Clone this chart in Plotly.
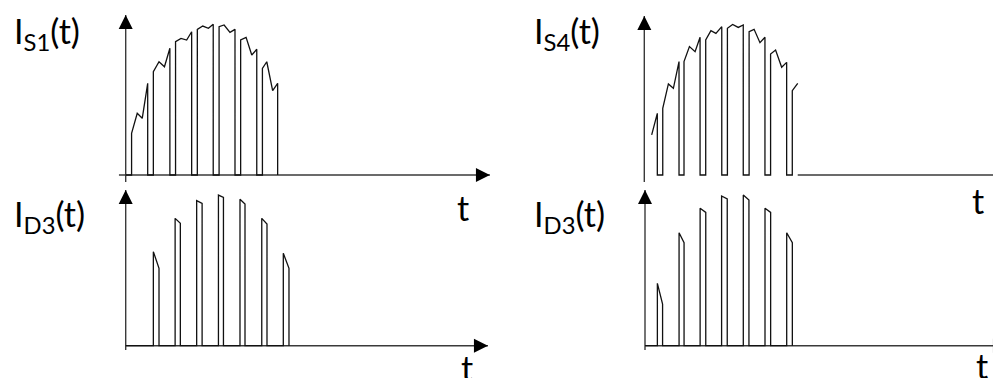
import plotly.graph_objects as go

# ---------------- data (time in switching periods, current in A) ----------------
S1_T = [[0.27, 0.53, 0.76, 1.01], [1.27, 1.53, 1.78, 2.03], [2.29, 2.54, 2.80, 3.03],
        [3.29, 3.54, 3.80, 4.02], [4.29, 4.52, 4.79, 5.02], [5.28, 5.53, 5.79, 6.02],
        [6.28, 6.48, 6.75, 6.98]]
S1_I = [[2.78, 4.11, 3.78, 6.11], [6.89, 7.55, 7.22, 8.45], [8.89, 9.11, 9.00, 9.55],
        [9.71, 9.93, 9.78, 10.05], [9.89, 10.00, 9.51, 9.71], [9.00, 9.18, 8.00, 8.38],
        [7.11, 7.55, 5.62, 6.11]]

D3L_T = [[1.27, 1.53], [2.27, 2.51], [3.26, 3.51], [4.26, 4.49], [5.25, 5.48],
         [6.25, 6.49], [7.24, 7.50]]
D3L_I = [[6.27, 5.16], [8.49, 8.16], [9.67, 9.49], [10.04, 9.89], [9.76, 9.44],
         [8.49, 8.11], [6.16, 5.16]]

S4_T = [[0.34, 0.60], [0.85, 1.11, 1.34, 1.60], [1.83, 2.08, 2.34, 2.57],
        [2.83, 3.07, 3.30, 3.57], [3.83, 4.07, 4.33, 4.56], [4.83, 5.06, 5.33, 5.56],
        [5.82, 6.05, 6.33, 6.56], [6.82, 7.07]]
S4_I = [[2.67, 4.11], [4.44, 6.07, 5.78, 7.56], [7.56, 8.56, 8.22, 9.18],
        [9.00, 9.62, 9.44, 9.89], [9.78, 10.04, 9.84, 10.00], [9.56, 9.71, 8.82, 9.18],
        [8.07, 8.33, 7.18, 7.51], [5.62, 6.11]]
S4_RISE = [False, True, True, True, True, True, True, True]
S4_FALL = [True, True, True, True, True, True, True, False]

D3R_T = [[0.57, 0.81], [1.57, 1.80], [2.54, 2.80], [3.53, 3.79], [4.53, 4.79],
         [5.53, 5.79], [6.53, 6.79]]
D3R_I = [[4.16, 2.78], [7.53, 6.87], [9.16, 8.89], [9.98, 9.78], [10.04, 9.71],
         [9.16, 8.89], [7.53, 6.87]]

LABELS = ["I<sub>S1</sub>(t)", "I<sub>D3</sub>(t)", "I<sub>S4</sub>(t)", "I<sub>D3</sub>(t)"]
T_LABEL = "t"

# ---------------- layout helpers ----------------
W, H = 1001, 378
PAD = 8          # page body margin of the html page
FONT = "Lato"
WAVE = "#111111"
AXC = "#3a3a3a"


def build(times, currents, rise=None, fall=None, t_start=None):
    xs, ys = [], []
    if t_start is not None:
        xs.append(t_start); ys.append(0)
    for k, (tt, ii) in enumerate(zip(times, currents)):
        if rise is None or rise[k]:
            xs.append(tt[0]); ys.append(0)
        xs += tt; ys += ii
        if fall is None or fall[k]:
            xs.append(tt[-1]); ys.append(0)
    return xs, ys


# panel: (origin px x, origin px y in the target picture, px per period, px per A)
panels = [
    dict(ox=125.7, oy=175.0, sx=21.77, sy=15.0),
    dict(ox=125.7, oy=345.7, sx=21.77, sy=15.0),
    dict(ox=644.3, oy=175.0, sx=21.70, sy=15.0),
    dict(ox=645.0, oy=345.7, sx=21.70, sy=15.0),
]

waves = [
    build(S1_T, S1_I, t_start=0.0),
    build(D3L_T, D3L_I, t_start=0.0),
    build(S4_T, S4_I, S4_RISE, S4_FALL),
    build(D3R_T, D3R_I, t_start=0.0),
]

# axis arrow extents (tail -> head) per panel
x_arrows = [(-0.31, 16.73), (0.0, 16.64), (7.07, 16.75), (0.0, 16.68)]
y_arrows = [(-0.47, 10.67), (-0.29, 10.38), (-0.47, 10.60), (-0.29, 10.38)]

fig = go.Figure()
layout = dict(width=W, height=H, autosize=False,
              margin=dict(l=0, r=0, t=0, b=0),
              paper_bgcolor="white", plot_bgcolor="white",
              showlegend=False)
annotations = []

for i, (p, (xs, ys)) in enumerate(zip(panels, waves)):
    n = "" if i == 0 else str(i + 1)
    ox = p["ox"] - PAD
    oy = p["oy"] - PAD
    xr = [-ox / p["sx"], (W - ox) / p["sx"]]
    yr = [-(H - oy) / p["sy"], oy / p["sy"]]
    xa = dict(range=xr, visible=False, domain=[0, 1], fixedrange=True)
    ya = dict(range=yr, visible=False, domain=[0, 1], fixedrange=True)
    if i > 0:
        xa["overlaying"] = "x"
        ya["overlaying"] = "y"
        xa["anchor"] = "y" + n
        ya["anchor"] = "x" + n
    layout["xaxis" + n] = xa
    layout["yaxis" + n] = ya

    x0, x1 = x_arrows[i]
    y0, y1 = y_arrows[i]
    # axes lines
    fig.add_trace(go.Scatter(x=[x0, x1, None, 0, 0], y=[0, 0, None, y0, y1],
                             mode="lines", xaxis="x" + n, yaxis="y" + n,
                             line=dict(color=AXC, width=1.4), hoverinfo="skip",
                             cliponaxis=False))
    # waveform
    fig.add_trace(go.Scatter(x=xs, y=ys, mode="lines", xaxis="x" + n, yaxis="y" + n,
                             line=dict(color=WAVE, width=1.3), hoverinfo="skip",
                             cliponaxis=False))
    # arrow heads
    fig.add_trace(go.Scatter(x=[x1, 0], y=[0, y1], mode="markers",
                             xaxis="x" + n, yaxis="y" + n, hoverinfo="skip",
                             marker=dict(symbol=["arrow-right", "arrow-up"], size=14,
                                         color="black", line=dict(width=0)),
                             cliponaxis=False))

# text labels (pixel positions in the target picture -> paper)
label_pos = [(12, None), (12, 216), (532, None), (532, 216)]
for txt, (px, py) in zip(LABELS, label_pos):
    if py is None:
        yy, ya_ = 1.0, "top"
    else:
        yy, ya_ = 1 - (py - PAD) / H, "middle"
    annotations.append(dict(x=(px - PAD) / W, y=yy,
                            xref="paper", yref="paper",
                            xanchor="left", yanchor=ya_, text=txt, showarrow=False,
                            font=dict(family=FONT, size=34, color="black")))

t_pos = [(462.5, 207), (467, 367), (978, 200), (982, 365)]
for (px, py) in t_pos:
    annotations.append(dict(x=(px - PAD) / W, y=1 - (py - PAD) / H,
                            xref="paper", yref="paper",
                            xanchor="center", yanchor="middle", text=T_LABEL,
                            showarrow=False,
                            font=dict(family=FONT, size=34, color="black")))

layout["annotations"] = annotations
fig.update_layout(**layout)
fig.write_html("out.html")
